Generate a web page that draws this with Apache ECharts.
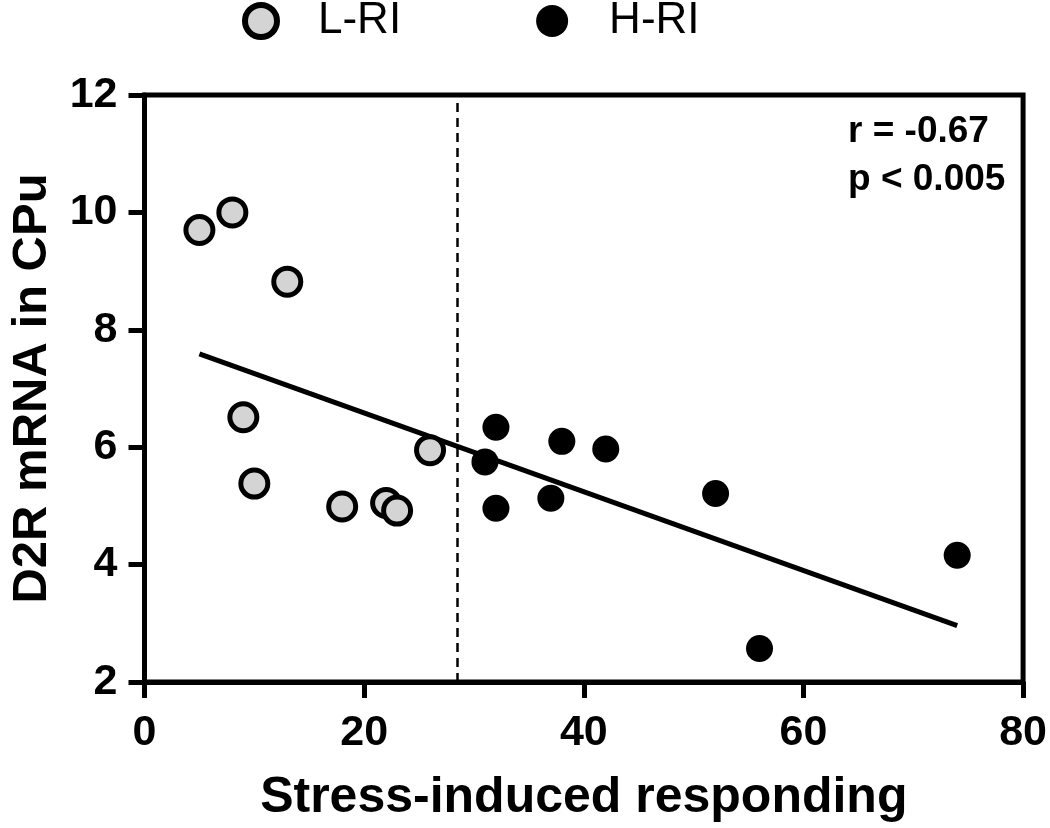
<!DOCTYPE html>
<html>
<head>
<meta charset="utf-8">
<script src="https://cdn.jsdelivr.net/npm/echarts@6/dist/echarts.min.js"></script>
<style>html,body{margin:0;padding:0;background:#fff}#c{width:1050px;height:828px}</style>
</head>
<body>
<div id="c"></div>
<script>
// Data
const lowRI_x = [5, 8, 13, 9, 10, 18, 22, 23, 26];
const lowRI_y = [9.70, 10.0, 8.82, 6.51, 5.38, 4.99, 5.05, 4.92, 5.95];
const highRI_x = [32, 31, 32, 37, 38, 42, 52, 56, 74];
const highRI_y = [6.34, 5.75, 4.96, 5.13, 6.10, 5.97, 5.21, 2.57, 4.16];
const fitLine_x = [5, 74];
const fitLine_y = [7.59, 2.96];
const cutoffX = 28.5;
const seriesNames = ['L-RI', 'H-RI'];
const statsText = ['r = -0.67', 'p < 0.005'];
const xTitle = 'Stress-induced responding';
const yTitle = 'D2R mRNA in CPu';

const zip = (xs, ys) => xs.map((x, i) => [x, ys[i]]);
const FONT = "'Liberation Sans', Arial, sans-serif";

const chart = echarts.init(document.getElementById('c'), null, {renderer: 'canvas'});
chart.setOption({
  animation: false,
  backgroundColor: '#ffffff',
  grid: {left: 140, right: 24, top: 95, bottom: 141, show: true, borderColor: '#000', borderWidth: 5, backgroundColor: 'transparent'},
  legend: {
    data: seriesNames,
    left: 237, top: -6,
    itemWidth: 32, itemHeight: 32, itemGap: 135,
    icon: 'circle',
    itemStyle: {borderWidth: 6},
    textStyle: {fontFamily: FONT, fontSize: 44, color: '#000', padding: [0, 0, 0, 36]}
  },
  xAxis: {
    type: 'value', min: 0, max: 80, interval: 20,
    name: xTitle, nameLocation: 'middle', nameGap: 116,
    nameTextStyle: {fontFamily: FONT, fontSize: 50, fontWeight: 'bold', color: '#000', verticalAlign: 'middle'},
    axisLine: {show: true, lineStyle: {color: '#000', width: 5}},
    axisTick: {show: true, length: 16, lineStyle: {color: '#000', width: 5}},
    axisLabel: {fontFamily: FONT, fontSize: 43, fontWeight: 'bold', color: '#000', margin: 30},
    splitLine: {show: false}
  },
  yAxis: {
    type: 'value', min: 2, max: 12, interval: 2,
    name: yTitle, nameLocation: 'middle', nameGap: 112,
    nameTextStyle: {fontFamily: FONT, fontSize: 49, fontWeight: 'bold', color: '#000', verticalAlign: 'middle'},
    axisLine: {show: true, lineStyle: {color: '#000', width: 5}},
    axisTick: {show: true, length: 16, lineStyle: {color: '#000', width: 5}},
    axisLabel: {fontFamily: FONT, fontSize: 43, fontWeight: 'bold', color: '#000', margin: 27},
    splitLine: {show: false}
  },
  series: [
    {
      type: 'line', data: zip(fitLine_x, fitLine_y), symbol: 'none', z: 1,
      lineStyle: {color: '#000', width: 5}, silent: true,
      markLine: {
        silent: true, symbol: 'none', label: {show: false},
        lineStyle: {color: '#000', width: 2.5, type: [9, 6]},
        data: [{xAxis: cutoffX}]
      }
    },
    {
      name: seriesNames[0], type: 'scatter', data: zip(lowRI_x, lowRI_y), z: 3,
      symbol: 'circle', symbolSize: 27,
      itemStyle: {color: '#d4d4d4', borderColor: '#000', borderWidth: 5, opacity: 1}
    },
    {
      name: seriesNames[1], type: 'scatter', data: zip(highRI_x, highRI_y), z: 3,
      symbol: 'circle', symbolSize: 27,
      itemStyle: {color: '#000', opacity: 1}
    }
  ],
  graphic: [
    {type: 'text', left: 848, top: 113, style: {text: statsText[0], font: "bold 37px 'Liberation Sans', Arial, sans-serif", fill: '#000'}},
    {type: 'text', left: 848, top: 161, style: {text: statsText[1], font: "bold 37px 'Liberation Sans', Arial, sans-serif", fill: '#000'}}
  ]
});
</script>
</body>
</html>
